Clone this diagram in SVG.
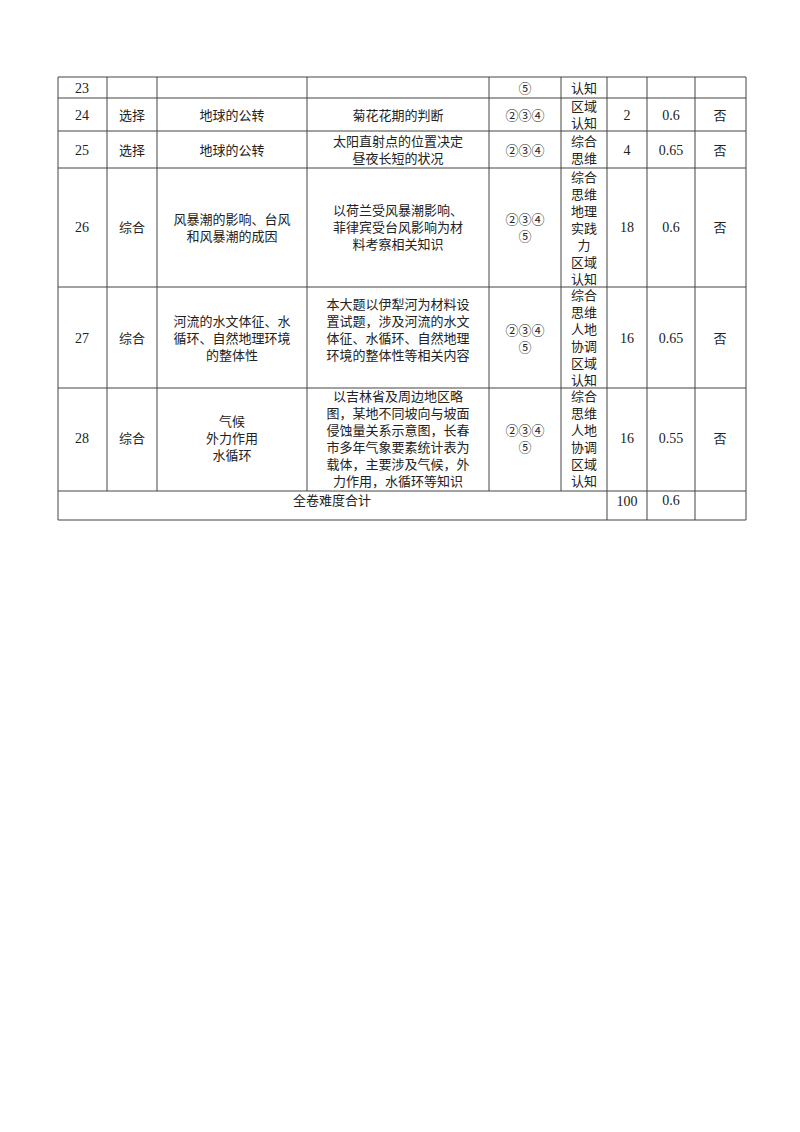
<svg xmlns="http://www.w3.org/2000/svg" width="800" height="1132" viewBox="0 0 800 1132">
<style>
text{font-family:"Liberation Serif","Noto Sans CJK SC",serif;font-size:14px;fill:#222;text-anchor:middle}
.c{font-family:"Noto Sans CJK SC",sans-serif;font-size:13px}
line{stroke:#444;stroke-width:1}
</style>
<rect width="800" height="1132" fill="#fff"/>
<g id="grid">
<line x1="58" y1="77" x2="746" y2="77"/>
<line x1="58" y1="98" x2="746" y2="98"/>
<line x1="58" y1="131" x2="746" y2="131"/>
<line x1="58" y1="168" x2="746" y2="168"/>
<line x1="58" y1="287" x2="746" y2="287"/>
<line x1="58" y1="388" x2="746" y2="388"/>
<line x1="58" y1="491" x2="746" y2="491"/>
<line x1="58" y1="520" x2="746" y2="520"/>
<line x1="58" y1="77" x2="58" y2="520"/>
<line x1="107" y1="77" x2="107" y2="491"/>
<line x1="157" y1="77" x2="157" y2="491"/>
<line x1="307" y1="77" x2="307" y2="491"/>
<line x1="489" y1="77" x2="489" y2="491"/>
<line x1="561" y1="77" x2="561" y2="491"/>
<line x1="607" y1="77" x2="607" y2="520"/>
<line x1="647" y1="77" x2="647" y2="520"/>
<line x1="695" y1="77" x2="695" y2="520"/>
<line x1="746" y1="77" x2="746" y2="520"/>
</g>
<g id="r23">
<text x="82" y="93">23</text><text x="525" y="93" class="c">⑤</text><text x="584" y="93" class="c">认知</text>
</g>
<g id="r24">
<text x="82" y="120">24</text><text x="132" y="120" class="c">选择</text><text x="232" y="120" class="c">地球的公转</text><text x="398" y="120" class="c">菊花花期的判断</text><text x="525" y="120" class="c">②③④</text>
<text x="584" y="111" class="c">区域</text><text x="584" y="128" class="c">认知</text>
<text x="627" y="120">2</text><text x="671" y="120">0.6</text><text x="720" y="120" class="c">否</text>
</g>
<g id="r25">
<text x="82" y="155">25</text><text x="132" y="155" class="c">选择</text><text x="232" y="155" class="c">地球的公转</text><text x="398" y="146" class="c">太阳直射点的位置决定</text><text x="398" y="163" class="c">昼夜长短的状况</text><text x="525" y="155" class="c">②③④</text>
<text x="584" y="146" class="c">综合</text><text x="584" y="163" class="c">思维</text>
<text x="627" y="155">4</text><text x="671" y="155">0.65</text><text x="720" y="155" class="c">否</text>
</g>
<g id="r26">
<text x="82" y="232">26</text><text x="132" y="232" class="c">综合</text>
<text x="232" y="224" class="c">风暴潮的影响、台风</text><text x="232" y="241" class="c">和风暴潮的成因</text>
<text x="398" y="215" class="c">以荷兰受风暴潮影响、</text><text x="398" y="232" class="c">菲律宾受台风影响为材</text><text x="398" y="249" class="c">料考察相关知识</text>
<text x="525" y="224" class="c">②③④</text><text x="525" y="241" class="c">⑤</text>
<text x="584" y="182" class="c">综合</text><text x="584" y="199" class="c">思维</text><text x="584" y="216" class="c">地理</text><text x="584" y="233" class="c">实践</text><text x="584" y="250" class="c">力</text><text x="584" y="267" class="c">区域</text><text x="584" y="284" class="c">认知</text>
<text x="627" y="232">18</text><text x="671" y="232">0.6</text><text x="720" y="232" class="c">否</text>
</g>
<g id="r27">
<text x="82" y="343">27</text><text x="132" y="343" class="c">综合</text>
<text x="232" y="326" class="c">河流的水文体征、水</text><text x="232" y="343" class="c">循环、自然地理环境</text><text x="232" y="360" class="c">的整体性</text>
<text x="398" y="309" class="c">本大题以伊犁河为材料设</text><text x="398" y="326" class="c">置试题，涉及河流的水文</text><text x="398" y="343" class="c">体征、水循环、自然地理</text><text x="398" y="360" class="c">环境的整体性等相关内容</text>
<text x="525" y="335" class="c">②③④</text><text x="525" y="352" class="c">⑤</text>
<text x="584" y="300" class="c">综合</text><text x="584" y="317" class="c">思维</text><text x="584" y="334" class="c">人地</text><text x="584" y="351" class="c">协调</text><text x="584" y="368" class="c">区域</text><text x="584" y="385" class="c">认知</text>
<text x="627" y="343">16</text><text x="671" y="343">0.65</text><text x="720" y="343" class="c">否</text>
</g>
<g id="r28">
<text x="82" y="443">28</text><text x="132" y="443" class="c">综合</text>
<text x="232" y="426" class="c">气候</text><text x="232" y="443" class="c">外力作用</text><text x="232" y="460" class="c">水循环</text>
<text x="398" y="401" class="c">以吉林省及周边地区略</text><text x="398" y="418" class="c">图，某地不同坡向与坡面</text><text x="398" y="435" class="c">侵蚀量关系示意图，长春</text><text x="398" y="452" class="c">市多年气象要素统计表为</text><text x="398" y="469" class="c">载体，主要涉及气候，外</text><text x="398" y="486" class="c">力作用，水循环等知识</text>
<text x="525" y="435" class="c">②③④</text><text x="525" y="452" class="c">⑤</text>
<text x="584" y="401" class="c">综合</text><text x="584" y="418" class="c">思维</text><text x="584" y="435" class="c">人地</text><text x="584" y="452" class="c">协调</text><text x="584" y="469" class="c">区域</text><text x="584" y="486" class="c">认知</text>
<text x="627" y="443">16</text><text x="671" y="443">0.55</text><text x="720" y="443" class="c">否</text>
</g>
<g id="total">
<text x="332" y="505" class="c">全卷难度合计</text><text x="627" y="506">100</text><text x="671" y="505">0.6</text>
</g>
</svg>
